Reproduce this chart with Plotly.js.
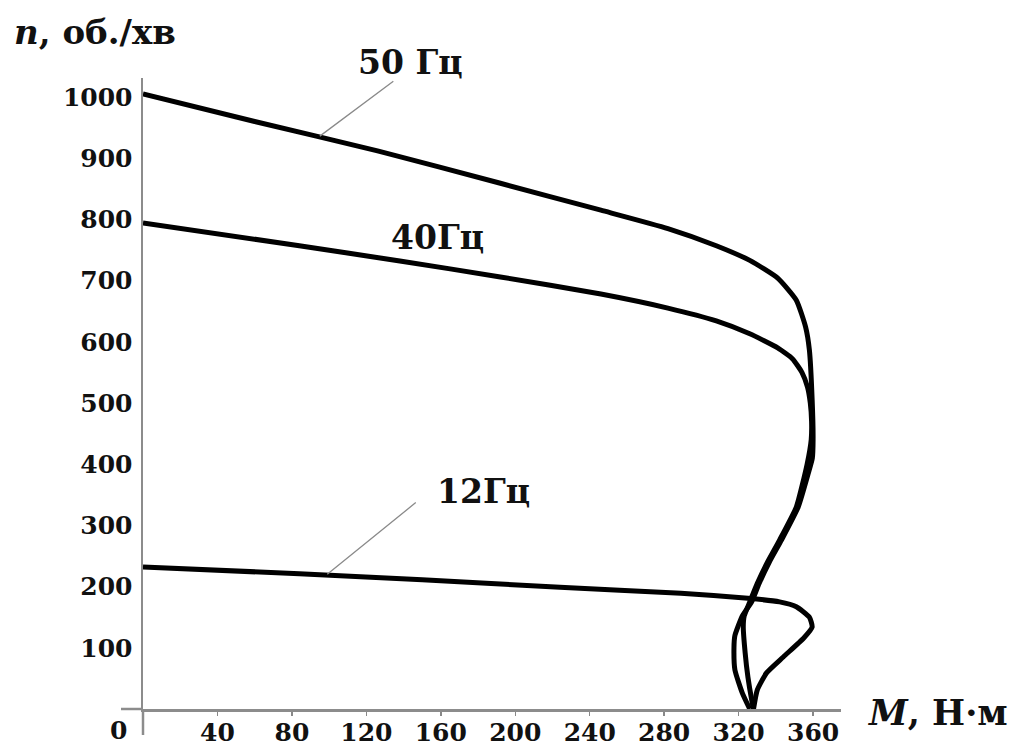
<!DOCTYPE html>
<html>
<head>
<meta charset="utf-8">
<script src="https://cdn.plot.ly/plotly-3.0.1.min.js"></script>
<style>html,body{margin:0;padding:0;background:#fff;}#chart{width:1019px;height:747px;}</style>
</head>
<body>
<div id="chart"></div>
<script>
// ---- data ----
const m50 = [0, 60, 126, 192, 246, 282, 308, 326, 341, 351, 356, 358, 359.5, 360, 359.6, 357.5, 352, 343, 336.5, 331, 327, 322, 318, 317.5, 318, 322, 326];
const n50 = [1005, 960, 912, 859, 815, 785, 757, 733, 704, 668, 624, 587, 505, 440, 410, 386, 330, 276, 240, 205, 175, 152, 120, 100, 64, 26, 0];

const m40 = [0, 84, 138, 192, 246, 282, 308, 326, 341, 349, 354, 357, 358.5, 359.2, 359, 356.8, 351, 342, 335.5, 330, 326, 323, 322.5, 323.5, 325, 327, 328];
const n40 = [794, 757, 732, 706, 678, 655, 634, 613, 590, 572, 550, 526, 500, 470, 440, 400, 330, 276, 240, 205, 175, 152, 134, 92, 52, 15, 0];

const m12 = [0, 84, 150, 224, 289, 325, 342, 351, 358, 359.5, 355, 344, 335, 330, 328];
const n12 = [232, 221, 211, 199, 189, 181, 175, 167, 150, 134, 116, 85, 59, 31, 0];

const xTicks = [40, 80, 120, 160, 200, 240, 280, 320, 360];
const yTicks = [100, 200, 300, 400, 500, 600, 700, 800, 900, 1000];

const seriesNames = ['50 Гц', '40Гц', '12Гц'];
// leader anchor points on curves (data units)
const lead50 = {m: 95, n: 936};
const lead12 = {m: 99, n: 220};

// ---- layout geometry ----
const W = 1019, Hh = 747;
const mg = {l: 143, r: 178, t: 78, b: 38};
const PW = W - mg.l - mg.r, PH = Hh - mg.t - mg.b;
const px = x => (x - mg.l) / PW;
const py = y => (Hh - mg.b - y) / PH;

const FONT = 'DejaVu Serif, Liberation Serif, serif';
const lineStyle = {color: '#000', width: 5, shape: 'spline', smoothing: 0.5};

const traces = [
  {x: m50, y: n50, mode: 'lines', line: lineStyle, name: seriesNames[0], hoverinfo: 'skip'},
  {x: m40, y: n40, mode: 'lines', line: lineStyle, name: seriesNames[1], hoverinfo: 'skip'},
  {x: m12, y: n12, mode: 'lines', line: lineStyle, name: seriesNames[2], hoverinfo: 'skip'}
];

const tickFont = {family: FONT, size: 25, color: '#111', weight: 'bold'};
const labFont = {family: FONT, size: 33, color: '#111', weight: 'bold'};

const layout = {
  width: W, height: Hh,
  margin: mg,
  paper_bgcolor: '#fff', plot_bgcolor: '#fff',
  showlegend: false,
  xaxis: {
    range: [0, 375], showgrid: false, zeroline: false,
    showline: true, linecolor: '#8c8c8c', linewidth: 2.5,
    tickvals: xTicks, ticktext: xTicks.map(String),
    ticks: 'outside', ticklen: 4, tickwidth: 1.5, tickcolor: '#888',
    tickfont: tickFont, ticklabelstandoff: -5
  },
  yaxis: {
    range: [0, 1031], showgrid: false, zeroline: false,
    showline: true, linecolor: '#8c8c8c', linewidth: 2.5,
    tickvals: yTicks, ticktext: yTicks.map(String),
    ticks: '', tickfont: tickFont, ticklabelstandoff: 3
  },
  shapes: [
    {type: 'line', xref: 'paper', yref: 'paper', x0: px(121), x1: 0, y0: 0, y1: 0,
     line: {color: '#8c8c8c', width: 2.5}},
    {type: 'line', xref: 'paper', yref: 'paper', x0: 0, x1: 0, y0: py(735), y1: 0,
     line: {color: '#8c8c8c', width: 2.5}}
  ],
  annotations: [
    {xref: 'paper', yref: 'paper', x: px(12), y: py(32), xanchor: 'left', yanchor: 'middle',
     text: '<i>n</i>, об./хв', showarrow: false, font: {family: FONT, size: 34, color: '#111', weight: 'bold'}},
    {xref: 'paper', yref: 'paper', x: px(866), y: py(712), xanchor: 'left', yanchor: 'middle',
     text: '<i>M</i>, Н·м', showarrow: false, font: {family: FONT, size: 35, color: '#111', weight: 'bold'}},
    {xref: 'paper', yref: 'paper', x: px(118), y: py(731), xanchor: 'center', yanchor: 'middle',
     text: '0', showarrow: false, font: tickFont},
    {xref: 'paper', yref: 'paper', x: px(410), y: py(62), xanchor: 'center', yanchor: 'middle',
     text: seriesNames[0], showarrow: false, font: labFont},
    {xref: 'paper', yref: 'paper', x: px(437), y: py(237), xanchor: 'center', yanchor: 'middle',
     text: seriesNames[1], showarrow: false, font: labFont},
    {xref: 'paper', yref: 'paper', x: px(483), y: py(491), xanchor: 'center', yanchor: 'middle',
     text: seriesNames[2], showarrow: false, font: labFont},
    {x: lead50.m, y: lead50.n, xref: 'x', yref: 'y', text: '', showarrow: true,
     arrowhead: 0, arrowwidth: 1.3, arrowcolor: '#8a8a8a', ax: 75, ay: -56, standoff: 0},
    {x: lead12.m, y: lead12.n, xref: 'x', yref: 'y', text: '', showarrow: true,
     arrowhead: 0, arrowwidth: 1.3, arrowcolor: '#8a8a8a', ax: 90, ay: -73, standoff: 0}
  ]
};

Plotly.newPlot('chart', traces, layout, {staticPlot: true, displayModeBar: false});
</script>
</body>
</html>
